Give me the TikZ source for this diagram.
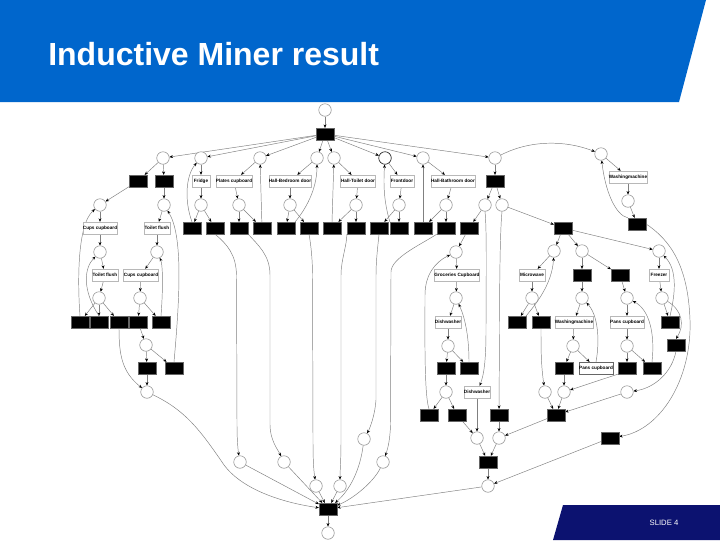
\documentclass[tikz,border=0pt]{standalone}
\usepackage{fontspec}
\setmainfont{Liberation Sans}
\usetikzlibrary{arrows.meta}
\usetikzlibrary{backgrounds}
\definecolor{slideblue}{RGB}{0,102,204}
\definecolor{slidenavy}{RGB}{12,18,112}
\begin{document}
\begin{tikzpicture}[x=0.75pt, y=-0.75pt]
    \tikzstyle{place} = [circle, draw=black!50, fill=white, line width=0.35pt, minimum size=9.4pt, inner sep=0pt]
    \tikzstyle{trans} = [rectangle, fill=black, draw=black!60, line width=0.2pt, minimum width=13.5pt, minimum height=9pt, inner sep=0pt]
    \tikzstyle{activity} = [rectangle, draw=black!28, fill=white, line width=0.3pt, minimum height=9pt, inner sep=0pt, font=\fontsize{3.5}{4}\selectfont\bfseries]
    \tikzstyle{arc} = [draw=black!50, line width=0.35pt, -{Stealth[length=2.6pt, width=2.2pt, black]}]
    \useasboundingbox (0, 0) rectangle (720, 540);
    \fill[slideblue] (0, 0) -- (706, 0) -- (679, 102) -- (0, 102) -- cycle;
    \fill[slidenavy] (563, 505) -- (720, 505) -- (720, 540) -- (553, 540) -- cycle;
    \node[white, anchor=base west, inner sep=0pt, font=\fontsize{24}{28}\selectfont\bfseries] (title) at (48, 65) {Inductive Miner result};
    \node[white, inner sep=0pt, font=\fontsize{5.8}{6}\selectfont] (slidenum) at (664, 523) {SLIDE 4};

    \node[place] (pstart) at (325, 110) {};
    \node[trans] (ttop) at (325, 134) {};
    \node[place] (p163) at (163, 158) {};
    \node[place] (p201) at (201, 158) {};
    \node[place] (p260) at (260, 158) {};
    \node[place] (p317) at (317, 158) {};
    \node[place] (p334) at (334, 158) {};
    \node[place, draw=black!85, line width=0.5pt] (p385) at (385, 158) {};
    \node[place] (p423) at (423, 158) {};
    \node[place] (p495) at (495, 158) {};
    \node[place] (p601) at (601, 154) {};
    \node[trans] (t138) at (138, 181) {};
    \node[trans] (t164) at (164, 181) {};
    \node[trans] (t495) at (495, 181) {};
    \node[activity, minimum width=13.5pt] (fridge) at (201, 181) {Fridge};
    \node[activity, minimum width=26pt] (plates) at (234, 181) {Plates cupboard};
    \node[activity, minimum width=31.5pt] (bedroom) at (290, 181) {Hall-Bedroom door};
    \node[activity, minimum width=26pt] (toiletdoor) at (358, 181) {Hall-Toilet door};
    \node[activity, minimum width=18pt] (frontdoor) at (402, 181) {Frontdoor};
    \node[activity, minimum width=31.5pt] (bathroom) at (453, 181) {Hall-Bathroom door};
    \node[activity, minimum width=27.5pt] (washtop) at (628, 177) {Washingmachine};
    \node[place] (p100a) at (100, 205) {};
    \node[place] (p164) at (164, 205) {};
    \node[place] (p201b) at (201, 205) {};
    \node[place] (p239) at (239, 205) {};
    \node[place] (p290) at (290, 205) {};
    \node[place] (p356) at (356, 205) {};
    \node[place] (p399) at (399, 205) {};
    \node[place] (p446) at (446, 205) {};
    \node[place] (p485) at (485, 205) {};
    \node[place] (p502) at (502, 205) {};
    \node[place] (p628) at (628, 201) {};
    \node[trans] (t637) at (637, 224) {};
    \node[activity, minimum width=25.5pt] (cups) at (100, 228) {Cups cupboard};
    \node[activity, minimum width=19.5pt] (toilet) at (157, 228) {Toilet flush};
    \node[trans] (t192) at (192, 228) {};
    \node[trans] (t215) at (215, 228) {};
    \node[trans] (t239) at (239, 228) {};
    \node[trans] (t262) at (262, 228) {};
    \node[trans] (t286) at (286, 228) {};
    \node[trans] (t309) at (309, 228) {};
    \node[trans] (t332) at (332, 228) {};
    \node[trans] (t356) at (356, 228) {};
    \node[trans] (t379) at (379, 228) {};
    \node[trans] (t399) at (399, 228) {};
    \node[trans] (t423) at (423, 228) {};
    \node[trans] (t446) at (446, 228) {};
    \node[trans] (t469) at (469, 228) {};
    \node[trans] (t563) at (563, 228) {};
    \node[place] (p100b) at (100, 252) {};
    \node[place] (p157) at (157, 252) {};
    \node[place] (p456) at (456, 252) {};
    \node[place] (p554) at (554, 251) {};
    \node[place] (p582) at (582, 251) {};
    \node[place] (p659) at (659, 251) {};
    \node[activity, minimum width=19.5pt] (toiletb) at (105, 275) {Toilet flush};
    \node[activity, minimum width=26pt] (cupsb) at (141, 275) {Cups cupboard};
    \node[activity, minimum width=33pt] (groceries) at (457, 275) {Groceries Cupboard};
    \node[activity, minimum width=19.5pt] (microwave) at (532, 275) {Microwave};
    \node[trans] (t582) at (582, 275) {};
    \node[trans] (t620) at (620, 275) {};
    \node[activity, minimum width=15pt] (freezer) at (659, 275) {Freezer};
    \node[place] (p99) at (99, 298) {};
    \node[place] (p140) at (140, 298) {};
    \node[place] (p456b) at (456, 298) {};
    \node[place] (p532) at (532, 298) {};
    \node[place] (p582b) at (582, 298) {};
    \node[place] (p627a) at (627, 298) {};
    \node[place] (p662) at (662, 298) {};
    \node[trans] (t80) at (80, 322) {};
    \node[trans] (t99) at (99, 322) {};
    \node[trans] (t119) at (119, 322) {};
    \node[trans] (t138b) at (138, 322) {};
    \node[trans] (t161) at (161, 322) {};
    \node[activity, minimum width=19.5pt] (dish) at (448, 322) {Dishwasher};
    \node[trans] (t517) at (517, 322) {};
    \node[trans] (t541) at (541, 322) {};
    \node[activity, minimum width=27.5pt] (wash) at (574, 322) {Washingmachine};
    \node[activity, minimum width=25pt] (pans) at (627, 322) {Pans cupboard};
    \node[trans] (t670) at (670, 322) {};
    \node[trans] (t676) at (676, 345) {};
    \node[place] (p146) at (146, 345) {};
    \node[place] (p448) at (448, 346) {};
    \node[place] (p573) at (573, 346) {};
    \node[place] (p627b) at (627, 346) {};
    \node[trans] (t147) at (147, 368) {};
    \node[trans] (t174) at (174, 368) {};
    \node[trans] (t446b) at (446, 368) {};
    \node[trans] (t469b) at (469, 368) {};
    \node[trans] (t564) at (564, 368) {};
    \node[activity, draw=black!60, minimum width=25pt] (pansb) at (596, 368) {Pans cupboard};
    \node[trans] (t627) at (627, 368) {};
    \node[trans] (t652) at (652, 368) {};
    \node[place] (p147) at (147, 392) {};
    \node[place] (p446b) at (446, 392) {};
    \node[activity, minimum width=19.5pt] (dishb) at (477, 392) {Dishwasher};
    \node[place] (p545) at (545, 392) {};
    \node[place] (p564) at (564, 392) {};
    \node[place] (p627c) at (627, 392) {};
    \node[trans] (t429) at (429, 415) {};
    \node[trans] (t457) at (457, 415) {};
    \node[trans] (t499) at (499, 415) {};
    \node[trans] (t556) at (556, 415) {};
    \node[trans] (t610) at (610, 438) {};
    \node[place] (p364) at (364, 439) {};
    \node[place] (p477) at (477, 438) {};
    \node[place] (p499) at (499, 438) {};
    \node[place] (p240) at (240, 462) {};
    \node[place] (p284) at (284, 462) {};
    \node[place] (p383) at (383, 462) {};
    \node[trans] (t488) at (488, 462) {};
    \node[place] (p316) at (316, 486) {};
    \node[place] (p340) at (340, 486) {};
    \node[place] (p488) at (488, 486) {};
    \node[trans] (tsink) at (328, 509) {};
    \node[place] (pend) at (328, 533) {};

    \begin{scope}[on background layer]
        \fill[white] (0, 0) rectangle (720, 540);
        \draw[arc] (pstart) -- (ttop);
        \draw[arc] (ttop) -- (p163);
        \draw[arc] (ttop) -- (p201);
        \draw[arc] (ttop) -- (p260);
        \draw[arc] (ttop) -- (p317);
        \draw[arc] (ttop) -- (p334);
        \draw[arc] (ttop) -- (p385);
        \draw[arc] (ttop) -- (p423);
        \draw[arc] (ttop) -- (p495);
        \draw[arc] (p163) -- (t138);
        \draw[arc] (p163) -- (t164);
        \draw[arc] (t138) -- (p100a);
        \draw[arc] (t164) -- (p164);
        \draw[arc] (p100a) -- (cups);
        \draw[arc] (p164) -- (toilet);
        \draw[arc] (cups) -- (p100b);
        \draw[arc] (toilet) -- (p157);
        \draw[arc] (p100b) -- (toiletb);
        \draw[arc] (p157) -- (cupsb);
        \draw[arc] (toiletb) -- (p99);
        \draw[arc] (cupsb) -- (p140);
        \draw[arc] (p99) -- (t80);
        \draw[arc] (p99) -- (t99);
        \draw[arc] (p99) -- (t119);
        \draw[arc] (p140) -- (t138b);
        \draw[arc] (p140) -- (t161);
        \draw[arc] (t80.north) .. controls (78, 290) and (76, 225) .. (p100a);
        \draw[arc] (t99.north) .. controls (82, 290) and (84, 268) .. (p100b);
        \draw[arc] (t161.north) .. controls (163, 290) and (163, 265) .. (p157);
        \draw[arc] (t138b) -- (p146);
        \draw[arc] (p146) -- (t147);
        \draw[arc] (p146) -- (t174);
        \draw[arc] (t147) -- (p147);
        \draw[arc] (t119.south) .. controls (119, 355) and (122, 372) .. (p147);
        \draw[arc] (t174.north) .. controls (180, 295) and (183, 235) .. (p164);
        \draw[arc] (p147) .. controls (185, 410) and (200, 430) .. (222, 462) .. controls (240, 490) and (285, 503) .. (tsink);

        \draw[arc] (p201) -- (fridge);
        \draw[arc] (fridge) -- (p201b);
        \draw[arc] (p201b) -- (t192);
        \draw[arc] (p201b) -- (t215);
        \draw[arc] (t192.north) .. controls (184, 200) and (186, 175) .. (p201);
        \draw[arc] (p260) -- (plates);
        \draw[arc] (plates) -- (p239);
        \draw[arc] (p239) -- (t239);
        \draw[arc] (p239) -- (t262);
        \draw[arc] (t262) -- (p260);
        \draw[arc] (p317) -- (bedroom);
        \draw[arc] (bedroom) -- (p290);
        \draw[arc] (p290) -- (t286);
        \draw[arc] (p290) -- (t309);
        \draw[arc] (t286.north east) .. controls (305, 210) and (317, 190) .. (p317);
        \draw[arc] (p334) -- (toiletdoor);
        \draw[arc] (toiletdoor) -- (p356);
        \draw[arc] (p356) -- (t332);
        \draw[arc] (p356) -- (t356);
        \draw[arc] (t332.north) -- (p334);
        \draw[arc] (p385) -- (frontdoor);
        \draw[arc] (frontdoor) -- (p399);
        \draw[arc] (p399) -- (t379);
        \draw[arc] (p399) -- (t399);
        \draw[arc] (t399.north west) .. controls (385, 205) and (383, 190) .. (p385);
        \draw[arc] (p423) -- (bathroom);
        \draw[arc] (bathroom) -- (p446);
        \draw[arc] (p446) -- (t423);
        \draw[arc] (p446) -- (t446);
        \draw[arc] (t423) -- (p423);

        \draw[arc] (t215.south) .. controls (228, 245) and (236, 255) .. (236.5, 275) -- (237, 425) .. controls (237, 440) and (238, 450) .. (p240);
        \draw[arc] (t239.south east) .. controls (258, 245) and (270, 255) .. (270, 275) -- (270, 425) .. controls (270, 440) and (278, 450) .. (p284);
        \draw[arc] (t309.south) .. controls (311, 245) and (312.5, 260) .. (312.5, 275) -- (313, 440) .. controls (313, 465) and (314, 472) .. (p316);
        \draw[arc] (t356.south west) .. controls (347, 245) and (341, 260) .. (341, 275) -- (341, 440) .. controls (341, 460) and (340, 472) .. (p340);
        \draw[arc] (t379.south) .. controls (378, 245) and (376, 260) .. (376, 275) -- (376, 400) .. controls (375, 415) and (370, 428) .. (p364);
        \draw[arc] (t446.south west) .. controls (420, 245) and (391, 258) .. (391, 272) -- (390.5, 425) .. controls (390, 440) and (388, 448) .. (p383);

        \draw[arc] (p240) -- (tsink);
        \draw[arc] (p284) -- (tsink);
        \draw[arc] (p316) -- (tsink);
        \draw[arc] (p340) -- (tsink);
        \draw[arc] (p364) .. controls (360, 470) and (350, 490) .. (tsink);
        \draw[arc] (p383) .. controls (375, 480) and (355, 498) .. (tsink);
        \draw[arc] (p488) -- (tsink);
        \draw[arc] (tsink) -- (pend);

        \draw[arc] (p495) -- (t495);
        \draw[arc] (t495) -- (p485);
        \draw[arc] (t495) -- (p502);
        \draw[arc] (p485) -- (t469);
        \draw[arc] (t469) -- (p456);
        \draw[arc] (p456) -- (groceries);
        \draw[arc] (groceries) -- (p456b);
        \draw[arc] (p456b) -- (dish);
        \draw[arc] (dish) -- (p448);
        \draw[arc] (p448) -- (t446b);
        \draw[arc] (p448) -- (t469b);
        \draw[arc] (t469b.north) .. controls (469, 340) and (466, 320) .. (p456b);
        \draw[arc] (t446b) -- (p446b);
        \draw[arc] (p446b) -- (t429);
        \draw[arc] (p446b) -- (t457);
        \draw[arc] (t429.north) .. controls (424, 395) and (425, 330) .. (425, 295) .. controls (425, 275) and (435, 262) .. (p456);
        \draw[arc] (t457) -- (p477);
        \draw[arc] (dishb) -- (p477);
        \draw[arc] (p485.south) .. controls (487, 230) and (486, 290) .. (486, 330) .. controls (486, 360) and (484, 375) .. (dishb);
        \draw[arc] (p502.south) .. controls (500, 230) and (499.5, 290) .. (499.5, 330) -- (t499);
        \draw[arc] (t499) -- (p499);
        \draw[arc] (t556) -- (p499);
        \draw[arc] (p477) -- (t488);
        \draw[arc] (p499) -- (t488);
        \draw[arc] (t488) -- (p488);
        \draw[arc] (t610) -- (p488);

        \draw[arc] (p502) -- (t563);
        \draw[arc] (t563) -- (p554);
        \draw[arc] (t563) -- (p582);
        \draw[arc] (t563) -- (p659);
        \draw[arc] (p554) -- (microwave);
        \draw[arc] (microwave) -- (p532);
        \draw[arc] (p532) -- (t517);
        \draw[arc] (p532) -- (t541);
        \draw[arc] (t517.north east) .. controls (535, 305) and (552, 285) .. (p554);
        \draw[arc] (t541.south) .. controls (541, 350) and (541, 365) .. (p545);
        \draw[arc] (p582) -- (t582);
        \draw[arc] (p582) -- (t620);
        \draw[arc] (t582) -- (p582b);
        \draw[arc] (t620) -- (p627a);
        \draw[arc] (p582b) -- (wash);
        \draw[arc] (wash) -- (p573);
        \draw[arc] (p573) -- (t564);
        \draw[arc] (p573) -- (pansb);
        \draw[arc] (pansb.north) .. controls (600, 340) and (598, 315) .. (p582b);
        \draw[arc] (t564) -- (p564);
        \draw[arc] (p627a) -- (pans);
        \draw[arc] (pans) -- (p627b);
        \draw[arc] (p627b) -- (t627);
        \draw[arc] (p627b) -- (t652);
        \draw[arc] (t652.north) .. controls (655, 335) and (650, 310) .. (p627a);
        \draw[arc] (t627.south west) -- (p564);
        \draw[arc] (p659) -- (freezer);
        \draw[arc] (freezer) -- (p662);
        \draw[arc] (p662) -- (t670);
        \draw[arc] (p662) .. controls (682, 310) and (685, 325) .. (t676.north);
        \draw[arc] (t670.north) .. controls (675, 295) and (678, 270) .. (p659);
        \draw[arc] (t676.south) .. controls (672, 372) and (655, 388) .. (p627c);
        \draw[arc] (p627c) -- (t556);
        \draw[arc] (p545) -- (t556);
        \draw[arc] (p564) -- (t556);

        \draw[arc] (p495) .. controls (530, 140) and (565, 140) .. (p601);
        \draw[arc] (p601) -- (washtop);
        \draw[arc] (washtop) -- (p628);
        \draw[arc] (p628) -- (t637);
        \draw[arc] (t637.north west) .. controls (615, 215) and (605, 190) .. (p601);
        \draw[arc] (t637.east) .. controls (670, 240) and (688, 265) .. (690, 320) .. controls (692, 380) and (660, 430) .. (t610);
    \end{scope}
\end{tikzpicture}
\end{document}
